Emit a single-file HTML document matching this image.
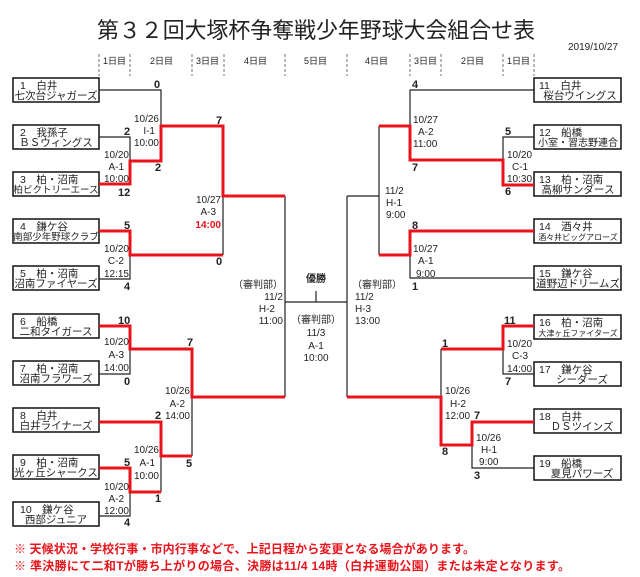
<!DOCTYPE html>
<html><head><meta charset="utf-8"><style>
html,body{margin:0;padding:0;background:#fff;}
svg{display:block;}
text{font-family:"Liberation Sans","Noto Sans CJK JP",sans-serif;fill:#222;}
.s{font-size:10px;}
.t{font-size:10.5px;}
.b{font-size:11px;font-weight:bold;}
</style></head><body>
<svg width="640" height="577" viewBox="0 0 640 577" xmlns="http://www.w3.org/2000/svg">
<rect width="640" height="577" fill="#fff"/>
<text x="316" y="38" text-anchor="middle" style="font-size:22px" textLength="438" lengthAdjust="spacingAndGlyphs">第３２回大塚杯争奪戦少年野球大会組合せ表</text>
<text x="568" y="50" class="s">2019/10/27</text>
<g stroke="#888" stroke-width="1.2" stroke-dasharray="3,2">
<line x1="99" y1="54" x2="99" y2="76"/><line x1="130" y1="54" x2="130" y2="76"/>
<line x1="192" y1="54" x2="192" y2="76"/><line x1="224" y1="54" x2="224" y2="76"/>
<line x1="285" y1="54" x2="285" y2="76"/><line x1="347" y1="54" x2="347" y2="76"/>
<line x1="410" y1="54" x2="410" y2="76"/><line x1="441" y1="54" x2="441" y2="76"/>
<line x1="503" y1="54" x2="503" y2="76"/><line x1="534" y1="54" x2="534" y2="76"/>
</g>
<g class="s" style="font-size:9px">
<text x="103" y="64">1日目</text><text x="150" y="64">2日目</text><text x="196" y="64">3日目</text>
<text x="244" y="64">4日目</text><text x="304" y="64">5日目</text><text x="365" y="64">4日目</text>
<text x="414" y="64">3日目</text><text x="461" y="64">2日目</text><text x="507" y="64">1日目</text>
</g>
<g fill="none" stroke="#111" stroke-width="1.5">
<rect x="13" y="78" width="86" height="24"/><rect x="13" y="125" width="86" height="24"/>
<rect x="13" y="172" width="86" height="24"/><rect x="13" y="219" width="86" height="24"/>
<rect x="13" y="266" width="86" height="24"/><rect x="13" y="314" width="86" height="24"/>
<rect x="13" y="361" width="86" height="24"/><rect x="13" y="408" width="86" height="24"/>
<rect x="13" y="455" width="86" height="24"/><rect x="13" y="502" width="86" height="24"/>
<rect x="534" y="78" width="87" height="24"/><rect x="534" y="125" width="87" height="24"/>
<rect x="534" y="172" width="87" height="24"/><rect x="534" y="219" width="87" height="24"/>
<rect x="534" y="266" width="87" height="24"/><rect x="534" y="315" width="87" height="24"/>
<rect x="534" y="362" width="87" height="24"/><rect x="534" y="409" width="87" height="24"/>
<rect x="534" y="456" width="87" height="24"/>
</g>
<g class="t">
<text x="20" y="89">1　白井</text><text x="56" y="99" text-anchor="middle">七次台ジャガーズ</text>
<text x="20" y="136">2　我孫子</text><text x="56" y="146" text-anchor="middle">ＢＳウィングス</text>
<text x="20" y="183">3　柏・沼南</text><text x="56" y="193" text-anchor="middle" style="font-size:9.5px">柏ビクトリーエース</text>
<text x="20" y="230">4　鎌ケ谷</text><text x="56" y="240" text-anchor="middle" style="font-size:9.5px">南部少年野球クラブ</text>
<text x="20" y="277">5　柏・沼南</text><text x="56" y="287" text-anchor="middle">沼南ファイヤーズ</text>
<text x="20" y="325">6　船橋</text><text x="56" y="335" text-anchor="middle">二和タイガース</text>
<text x="20" y="372">7　柏・沼南</text><text x="56" y="382" text-anchor="middle">沼南フラワーズ</text>
<text x="20" y="419">8　白井</text><text x="56" y="429" text-anchor="middle">白井ライナーズ</text>
<text x="20" y="466">9　柏・沼南</text><text x="56" y="476" text-anchor="middle">光ヶ丘シャークス</text>
<text x="20" y="513">10　鎌ケ谷</text><text x="56" y="523" text-anchor="middle">西部ジュニア</text>
<text x="539" y="89">11　白井</text><text x="580" y="99" text-anchor="middle">桜台ウイングス</text>
<text x="539" y="136">12　船橋</text><text x="578" y="146" text-anchor="middle" style="font-size:10px">小室・習志野連合</text>
<text x="539" y="183">13　柏・沼南</text><text x="578" y="193" text-anchor="middle">高柳サンダース</text>
<text x="539" y="230">14　酒々井</text><text x="578" y="240" text-anchor="middle" style="font-size:8px">酒々井ビッグアローズ</text>
<text x="539" y="277">15　鎌ケ谷</text><text x="578" y="287" text-anchor="middle">道野辺ドリームズ</text>
<text x="539" y="326">16　柏・沼南</text><text x="578" y="336" text-anchor="middle" style="font-size:8px">大津ヶ丘ファイターズ</text>
<text x="539" y="373">17　鎌ケ谷</text><text x="582" y="383" text-anchor="middle">シーダーズ</text>
<text x="539" y="420">18　白井</text><text x="582" y="430" text-anchor="middle">ＤＳツインズ</text>
<text x="539" y="467">19　船橋</text><text x="582" y="477" text-anchor="middle">夏見パワーズ</text>
</g>
<g fill="none" stroke="#222" stroke-width="1.2">
<polyline points="99,90 161,90 161,126"/>
<polyline points="99,137 130,137 130,161"/>
<polyline points="223,196 223,255"/>
<polyline points="99,279 130,279 130,255"/>
<polyline points="285,196 285,397"/>
<polyline points="99,374 130,374 130,349"/>
<polyline points="192,397 192,456"/>
<polyline points="161,456 161,492"/>
<polyline points="99,516 130,516 130,492"/>
<polyline points="534,90 410,90 410,126"/>
<polyline points="534,137 503,137 503,160"/>
<polyline points="379,126 379,255"/>
<polyline points="347,196 379,196"/>
<polyline points="347,196 347,397"/>
<polyline points="534,278 410,278 410,255"/>
<polyline points="534,374 503,374 503,349"/>
<polyline points="441,349 441,397"/>
<polyline points="534,468 472,468 472,445"/>
<line x1="285" y1="302" x2="347" y2="302"/>
<line x1="316" y1="291" x2="316" y2="302"/>
</g>
<g fill="none" stroke="#e8141b" stroke-width="3">
<polyline points="99,184 130,184 130,161 161,161 161,126 223,126 223,196 285,196"/>
<polyline points="99,231 130,231 130,255 223,255"/>
<polyline points="99,326 130,326 130,349 192,349 192,397 285,397"/>
<polyline points="99,422 161,422 161,456 192,456"/>
<polyline points="99,468 130,468 130,492 161,492"/>
<polyline points="379,126 410,126 410,160 503,160 503,185 534,185"/>
<polyline points="379,255 410,255 410,231 534,231"/>
<polyline points="534,326 503,326 503,349 441,349"/>
<polyline points="347,397 441,397 441,445 472,445 472,422 534,422"/>
</g>
<g class="b">
<text x="154" y="88">0</text><text x="216" y="124">7</text><text x="124" y="135">2</text>
<text x="155" y="171">2</text><text x="118" y="196">12</text><text x="124" y="229">5</text>
<text x="216" y="265">0</text><text x="124" y="290">4</text>
<text x="118" y="324">10</text><text x="187" y="346">7</text><text x="124" y="385">0</text>
<text x="155" y="419">2</text><text x="186" y="467">5</text><text x="124" y="466">5</text>
<text x="155" y="502">1</text><text x="124" y="526">4</text>
<text x="412" y="88">4</text><text x="505" y="135">5</text><text x="412" y="171">7</text>
<text x="505" y="195">6</text><text x="412" y="229">8</text><text x="412" y="290">1</text>
<text x="504" y="324">11</text><text x="442" y="347">1</text><text x="505" y="385">7</text>
<text x="474" y="419">7</text><text x="442" y="455">8</text><text x="474" y="479">3</text>
</g>
<g class="s" text-anchor="end">
<text x="159" y="122">10/26</text><text x="155" y="134">I-1</text><text x="159" y="146">10:00</text>
<text x="129" y="158">10/20</text><text x="124" y="170">A-1</text><text x="129" y="182">10:00</text>
<text x="221" y="203">10/27</text><text x="216" y="215">A-3</text><text x="221" y="228" style="fill:#e8141b;font-weight:bold">14:00</text>
<text x="129" y="252">10/20</text><text x="124" y="264">C-2</text><text x="129" y="277">12:15</text>
<text x="129" y="345">10/20</text><text x="124" y="358">A-3</text><text x="129" y="371">14:00</text>
<text x="190" y="394">10/26</text><text x="185" y="407">A-2</text><text x="190" y="419">14:00</text>
<text x="159" y="453">10/26</text><text x="155" y="466">A-1</text><text x="159" y="479">10:00</text>
<text x="129" y="490">10/20</text><text x="124" y="502">A-2</text><text x="129" y="514">12:00</text>
<text x="283" y="288">（審判部）</text><text x="283" y="300">11/2</text><text x="275" y="312">H-2</text><text x="283" y="324">11:00</text>
</g>
<g class="s">
<text x="413" y="123">10/27</text><text x="418" y="135">A-2</text><text x="413" y="147">11:00</text>
<text x="507" y="158">10/20</text><text x="512" y="170">C-1</text><text x="507" y="182">10:30</text>
<text x="385" y="194">11/2</text><text x="386" y="206">H-1</text><text x="386" y="218">9:00</text>
<text x="413" y="252">10/27</text><text x="418" y="264">A-1</text><text x="416" y="277">9:00</text>
<text x="507" y="347">10/20</text><text x="512" y="359">C-3</text><text x="507" y="372">14:00</text>
<text x="445" y="394">10/26</text><text x="450" y="407">H-2</text><text x="445" y="419">12:00</text>
<text x="476" y="441">10/26</text><text x="481" y="453">H-1</text><text x="479" y="465">9:00</text>
<text x="352" y="288">（審判部）</text><text x="355" y="300">11/2</text><text x="355" y="312">H-3</text><text x="355" y="324">13:00</text>
</g>
<g class="s" text-anchor="middle">
<text x="316" y="282" style="font-weight:bold">優勝</text>
<text x="316" y="323">（審判部）</text><text x="316" y="336">11/3</text><text x="316" y="349">A-1</text><text x="316" y="361">10:00</text>
</g>
<g style="font-size:12px;font-weight:bold">
<text x="14" y="553" style="fill:#e8141b" textLength="461" lengthAdjust="spacing">※ 天候状況・学校行事・市内行事などで、上記日程から変更となる場合があります。</text>
<text x="14" y="570" style="fill:#e8141b" textLength="556" lengthAdjust="spacing">※ 準決勝にて二和Tが勝ち上がりの場合、決勝は11/4 14時（白井運動公園）または未定となります。</text>
</g>
</svg>
</body></html>
